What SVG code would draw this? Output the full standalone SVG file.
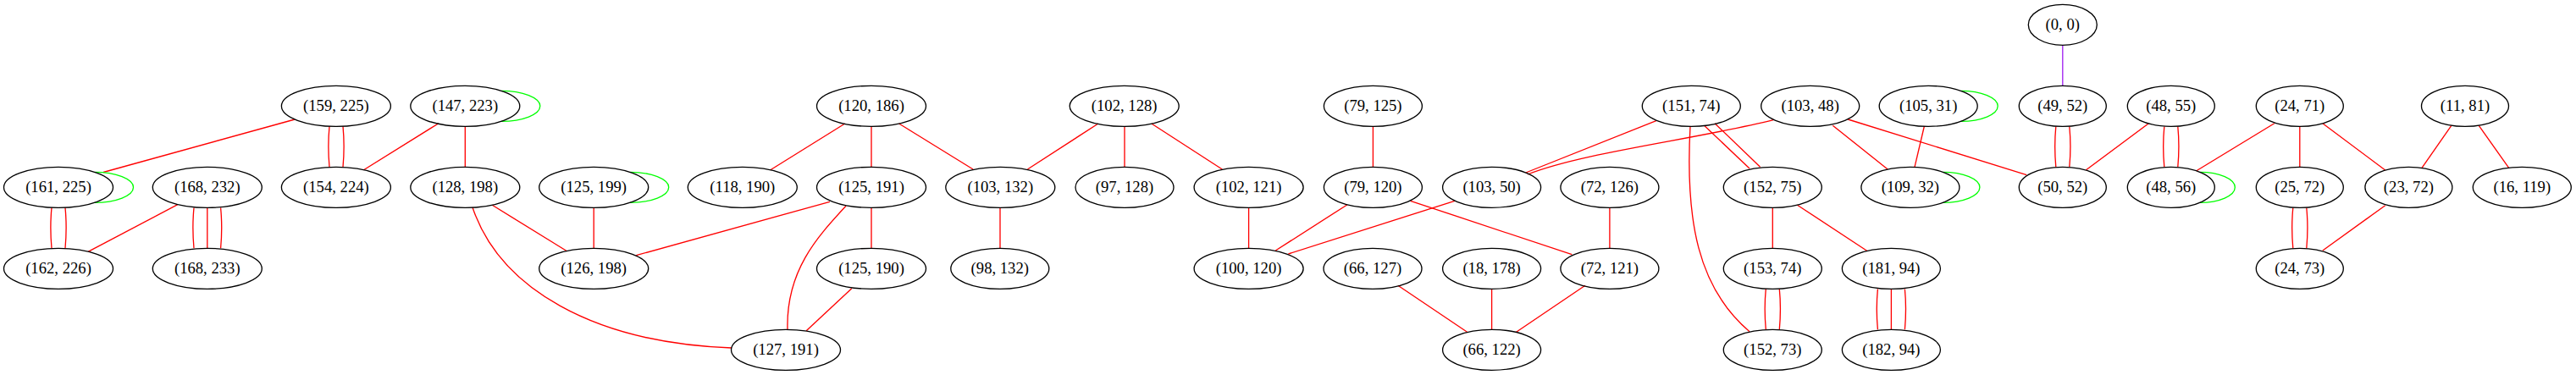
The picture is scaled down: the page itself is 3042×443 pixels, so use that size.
<svg xmlns="http://www.w3.org/2000/svg" width="3042" height="443" viewBox="0 0 3042 443">
<style>
.n ellipse{fill:none;stroke:#000;stroke-width:1.33}
.n text{font-family:"Liberation Serif","Times New Roman",serif;font-size:18.67px;text-anchor:middle;fill:#000}
#edges path{fill:none;stroke-width:1.33}
.r{stroke:#ff0000}
.g{stroke:#00ff00}
.p{stroke:#a020f0}
</style>
<rect width="3042" height="443" fill="#fff"/>
<g id="edges">
<path class="r" d="M348.2,141 L122,203.5"/>
<path class="r" d="M389,149.3 C387.5,165 387.5,181 389,197.3"/>
<path class="r" d="M405,149.3 C406.5,165 406.5,181 405,197.3"/>
<path class="r" d="M517.9,145.7 L429.5,200.7"/>
<path class="r" d="M549.3,149.3 L549.3,197.3"/>
<path class="g" d="M592,107.33 C617.3,107.33 637.8,115.4 637.8,125.33 C637.8,135.3 617.3,143.33 592,143.33"/>
<path class="r" d="M61,245.3 C59.5,261 59.5,277 61,293.3"/>
<path class="r" d="M77,245.3 C78.5,261 78.5,277 77,293.3"/>
<path class="g" d="M111.7,203.33 C137,203.33 157.5,211.4 157.5,221.33 C157.5,231.3 137,239.33 111.7,239.33"/>
<path class="r" d="M209.8,241.7 L104,297.3"/>
<path class="r" d="M229,245.5 C227.5,261 227.5,277 229,293.3"/>
<path class="r" d="M244.8,245.3 L244.8,293.3"/>
<path class="r" d="M260.6,245.5 C262.1,261 262.1,277 260.6,293.3"/>
<path class="r" d="M581.3,242.3 L669.6,296.7"/>
<path class="r" d="M558,245 C590,340 700,405 864,411"/>
<path class="g" d="M743.9,203.33 C769.2,203.33 789.7,211.4 789.7,221.33 C789.7,231.3 769.2,239.33 743.9,239.33"/>
<path class="r" d="M701.2,245.3 L701.2,293.3"/>
<path class="r" d="M997.8,146 L909.8,200.7"/>
<path class="r" d="M1029,149.3 L1029,197.3"/>
<path class="r" d="M1061.6,146 L1149.1,200"/>
<path class="r" d="M1296.9,146 L1213.4,200"/>
<path class="r" d="M1328,149.3 L1328,197.3"/>
<path class="r" d="M1359.8,146 L1443.3,200"/>
<path class="r" d="M979.9,238.3 L751.3,301.7"/>
<path class="r" d="M999,243.3 C965,280 928,320 930,389.3"/>
<path class="r" d="M1029,245.3 L1029,293.3"/>
<path class="r" d="M1005.8,340.7 L952.2,390.7"/>
<path class="r" d="M1181,245.3 L1181,293.3"/>
<path class="r" d="M1474.6,245.3 L1474.6,293.3"/>
<path class="r" d="M1621.4,149.3 L1621.4,197.3"/>
<path class="r" d="M1591.1,241.7 L1506.3,296"/>
<path class="r" d="M1665.6,237.3 L1856.3,300.7"/>
<path class="r" d="M1717.9,237.3 L1521.4,300"/>
<path class="r" d="M1955.8,142.7 L1801.8,204"/>
<path class="r" d="M2094.3,141.7 C2000,165 1870,180 1804,206"/>
<path class="r" d="M2012.5,148.3 L2066,199"/>
<path class="r" d="M2025,145.7 L2078.6,197.3"/>
<path class="r" d="M1996,149.3 C1990,260 2005,340 2066,391.7"/>
<path class="r" d="M1900.9,245.3 L1900.9,293.3"/>
<path class="r" d="M1650.9,337.3 L1732.6,392.3"/>
<path class="r" d="M1761.6,341.3 L1761.6,389.3"/>
<path class="r" d="M1871.9,337.3 L1790.6,392.3"/>
<path class="r" d="M2093.3,245.3 L2093.3,293.3"/>
<path class="r" d="M2085.3,341.3 C2083.8,357 2083.8,373 2085.3,389.3"/>
<path class="r" d="M2101.3,341.3 C2102.8,357 2102.8,373 2101.3,389.3"/>
<path class="r" d="M2122.5,242.2 L2205,296.5"/>
<path class="r" d="M2217.4,341.5 C2215.9,357 2215.9,373 2217.4,389.3"/>
<path class="r" d="M2233.4,341.3 L2233.4,389.3"/>
<path class="r" d="M2249.4,341.5 C2250.9,357 2250.9,373 2249.4,389.3"/>
<path class="r" d="M2164.3,148.3 L2229.2,200"/>
<path class="r" d="M2182.3,141 L2393.2,206.7"/>
<path class="r" d="M2272.4,149 L2261,197.3"/>
<path class="g" d="M2315.6,107.33 C2339.7,107.33 2359.2,115.4 2359.2,125.33 C2359.2,135.3 2339.7,143.33 2315.6,143.33"/>
<path class="g" d="M2294.3,203.33 C2318.4,203.33 2337.9,211.4 2337.9,221.33 C2337.9,231.3 2318.4,239.33 2294.3,239.33"/>
<path class="p" d="M2435.8,53.3 L2435.8,101.3"/>
<path class="r" d="M2427.8,149.5 C2426.3,165 2426.3,181 2427.8,197.3"/>
<path class="r" d="M2443.8,149.5 C2445.3,165 2445.3,181 2443.8,197.3"/>
<path class="r" d="M2537.4,145.7 L2463.5,200.7"/>
<path class="r" d="M2555.8,149.5 C2554.3,165 2554.3,181 2555.8,197.3"/>
<path class="r" d="M2571.8,149.5 C2573.3,165 2573.3,181 2571.8,197.3"/>
<path class="g" d="M2597.9,203.33 C2620.8,203.33 2639.3,211.4 2639.3,221.33 C2639.3,231.3 2620.8,239.33 2597.9,239.33"/>
<path class="r" d="M2685.8,145.7 L2593.8,201.7"/>
<path class="r" d="M2715.8,149.3 L2715.8,197.3"/>
<path class="r" d="M2742.8,145.7 L2816.7,201"/>
<path class="r" d="M2707.8,245.5 C2706.3,261 2706.3,277 2707.8,293.3"/>
<path class="r" d="M2723.8,245.5 C2725.3,261 2725.3,277 2723.8,293.3"/>
<path class="r" d="M2816.7,242.7 L2742.8,296"/>
<path class="r" d="M2894.8,148.3 L2860,198.3"/>
<path class="r" d="M2927.3,148.3 L2962.7,198.3"/>
</g>
<g id="n0_0" class="n"><ellipse cx="2435.8" cy="29.33" rx="40.5" ry="24"/><text x="2435.8" y="34.83">(0, 0)</text></g>
<g id="n159_225" class="n"><ellipse cx="396.9" cy="125.33" rx="64.5" ry="24"/><text x="396.9" y="130.83">(159, 225)</text></g>
<g id="n147_223" class="n"><ellipse cx="549.3" cy="125.33" rx="64.5" ry="24"/><text x="549.3" y="130.83">(147, 223)</text></g>
<g id="n120_186" class="n"><ellipse cx="1029" cy="125.33" rx="64.5" ry="24"/><text x="1029" y="130.83">(120, 186)</text></g>
<g id="n102_128" class="n"><ellipse cx="1327.7" cy="125.33" rx="64.5" ry="24"/><text x="1327.7" y="130.83">(102, 128)</text></g>
<g id="n79_125" class="n"><ellipse cx="1621.4" cy="125.33" rx="58" ry="24"/><text x="1621.4" y="130.83">(79, 125)</text></g>
<g id="n151_74" class="n"><ellipse cx="1997.3" cy="125.33" rx="58" ry="24"/><text x="1997.3" y="130.83">(151, 74)</text></g>
<g id="n103_48" class="n"><ellipse cx="2137.7" cy="125.33" rx="58" ry="24"/><text x="2137.7" y="130.83">(103, 48)</text></g>
<g id="n105_31" class="n"><ellipse cx="2277.2" cy="125.33" rx="58" ry="24"/><text x="2277.2" y="130.83">(105, 31)</text></g>
<g id="n49_52" class="n"><ellipse cx="2435.8" cy="125.33" rx="51.5" ry="24"/><text x="2435.8" y="130.83">(49, 52)</text></g>
<g id="n48_55" class="n"><ellipse cx="2563.8" cy="125.33" rx="51.5" ry="24"/><text x="2563.8" y="130.83">(48, 55)</text></g>
<g id="n24_71" class="n"><ellipse cx="2715.8" cy="125.33" rx="51.5" ry="24"/><text x="2715.8" y="130.83">(24, 71)</text></g>
<g id="n11_81" class="n"><ellipse cx="2911" cy="125.33" rx="51.5" ry="24"/><text x="2911" y="130.83">(11, 81)</text></g>
<g id="n161_225" class="n"><ellipse cx="69" cy="221.33" rx="64.5" ry="24"/><text x="69" y="226.83">(161, 225)</text></g>
<g id="n168_232" class="n"><ellipse cx="244.8" cy="221.33" rx="64.5" ry="24"/><text x="244.8" y="226.83">(168, 232)</text></g>
<g id="n154_224" class="n"><ellipse cx="396.9" cy="221.33" rx="64.5" ry="24"/><text x="396.9" y="226.83">(154, 224)</text></g>
<g id="n128_198" class="n"><ellipse cx="549.3" cy="221.33" rx="64.5" ry="24"/><text x="549.3" y="226.83">(128, 198)</text></g>
<g id="n125_199" class="n"><ellipse cx="701.2" cy="221.33" rx="64.5" ry="24"/><text x="701.2" y="226.83">(125, 199)</text></g>
<g id="n118_190" class="n"><ellipse cx="876.8" cy="221.33" rx="64.5" ry="24"/><text x="876.8" y="226.83">(118, 190)</text></g>
<g id="n125_191" class="n"><ellipse cx="1029" cy="221.33" rx="64.5" ry="24"/><text x="1029" y="226.83">(125, 191)</text></g>
<g id="n103_132" class="n"><ellipse cx="1181.3" cy="221.33" rx="64.5" ry="24"/><text x="1181.3" y="226.83">(103, 132)</text></g>
<g id="n97_128" class="n"><ellipse cx="1328" cy="221.33" rx="58" ry="24"/><text x="1328" y="226.83">(97, 128)</text></g>
<g id="n102_121" class="n"><ellipse cx="1474.6" cy="221.33" rx="64.5" ry="24"/><text x="1474.6" y="226.83">(102, 121)</text></g>
<g id="n79_120" class="n"><ellipse cx="1621.4" cy="221.33" rx="58" ry="24"/><text x="1621.4" y="226.83">(79, 120)</text></g>
<g id="n103_50" class="n"><ellipse cx="1761.6" cy="221.33" rx="58" ry="24"/><text x="1761.6" y="226.83">(103, 50)</text></g>
<g id="n72_126" class="n"><ellipse cx="1900.9" cy="221.33" rx="58" ry="24"/><text x="1900.9" y="226.83">(72, 126)</text></g>
<g id="n152_75" class="n"><ellipse cx="2093.3" cy="221.33" rx="58" ry="24"/><text x="2093.3" y="226.83">(152, 75)</text></g>
<g id="n109_32" class="n"><ellipse cx="2255.9" cy="221.33" rx="58" ry="24"/><text x="2255.9" y="226.83">(109, 32)</text></g>
<g id="n50_52" class="n"><ellipse cx="2435.8" cy="221.33" rx="51.5" ry="24"/><text x="2435.8" y="226.83">(50, 52)</text></g>
<g id="n48_56" class="n"><ellipse cx="2563.8" cy="221.33" rx="51.5" ry="24"/><text x="2563.8" y="226.83">(48, 56)</text></g>
<g id="n25_72" class="n"><ellipse cx="2715.8" cy="221.33" rx="51.5" ry="24"/><text x="2715.8" y="226.83">(25, 72)</text></g>
<g id="n23_72" class="n"><ellipse cx="2844.4" cy="221.33" rx="51.5" ry="24"/><text x="2844.4" y="226.83">(23, 72)</text></g>
<g id="n16_119" class="n"><ellipse cx="2978.3" cy="221.33" rx="58" ry="24"/><text x="2978.3" y="226.83">(16, 119)</text></g>
<g id="n162_226" class="n"><ellipse cx="69" cy="317.33" rx="64.5" ry="24"/><text x="69" y="322.83">(162, 226)</text></g>
<g id="n168_233" class="n"><ellipse cx="244.8" cy="317.33" rx="64.5" ry="24"/><text x="244.8" y="322.83">(168, 233)</text></g>
<g id="n126_198" class="n"><ellipse cx="701.2" cy="317.33" rx="64.5" ry="24"/><text x="701.2" y="322.83">(126, 198)</text></g>
<g id="n125_190" class="n"><ellipse cx="1029" cy="317.33" rx="64.5" ry="24"/><text x="1029" y="322.83">(125, 190)</text></g>
<g id="n98_132" class="n"><ellipse cx="1180.8" cy="317.33" rx="58" ry="24"/><text x="1180.8" y="322.83">(98, 132)</text></g>
<g id="n100_120" class="n"><ellipse cx="1474.6" cy="317.33" rx="64.5" ry="24"/><text x="1474.6" y="322.83">(100, 120)</text></g>
<g id="n66_127" class="n"><ellipse cx="1621" cy="317.33" rx="58" ry="24"/><text x="1621" y="322.83">(66, 127)</text></g>
<g id="n18_178" class="n"><ellipse cx="1761.6" cy="317.33" rx="58" ry="24"/><text x="1761.6" y="322.83">(18, 178)</text></g>
<g id="n72_121" class="n"><ellipse cx="1900.9" cy="317.33" rx="58" ry="24"/><text x="1900.9" y="322.83">(72, 121)</text></g>
<g id="n153_74" class="n"><ellipse cx="2093.3" cy="317.33" rx="58" ry="24"/><text x="2093.3" y="322.83">(153, 74)</text></g>
<g id="n181_94" class="n"><ellipse cx="2233.4" cy="317.33" rx="58" ry="24"/><text x="2233.4" y="322.83">(181, 94)</text></g>
<g id="n24_73" class="n"><ellipse cx="2715.8" cy="317.33" rx="51.5" ry="24"/><text x="2715.8" y="322.83">(24, 73)</text></g>
<g id="n127_191" class="n"><ellipse cx="928" cy="413.33" rx="64.5" ry="24"/><text x="928" y="418.83">(127, 191)</text></g>
<g id="n66_122" class="n"><ellipse cx="1761.6" cy="413.33" rx="58" ry="24"/><text x="1761.6" y="418.83">(66, 122)</text></g>
<g id="n152_73" class="n"><ellipse cx="2093.3" cy="413.33" rx="58" ry="24"/><text x="2093.3" y="418.83">(152, 73)</text></g>
<g id="n182_94" class="n"><ellipse cx="2233.4" cy="413.33" rx="58" ry="24"/><text x="2233.4" y="418.83">(182, 94)</text></g>
</svg>
